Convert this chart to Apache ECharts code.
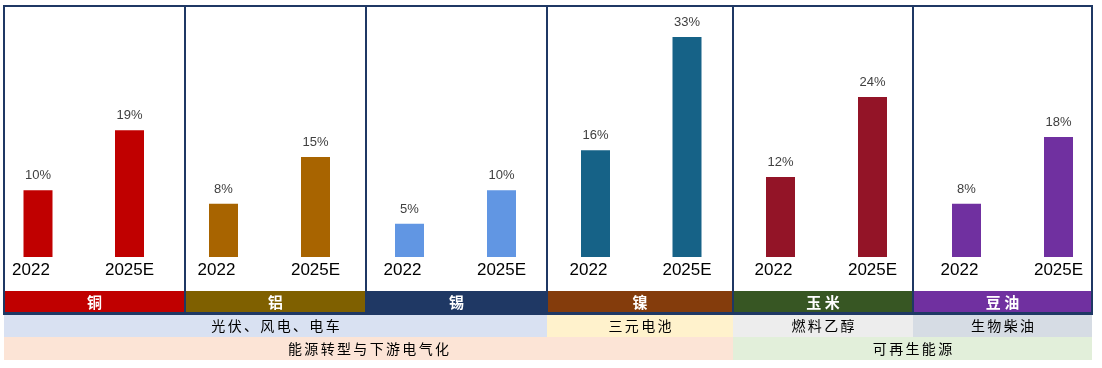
<!DOCTYPE html>
<html>
<head>
<meta charset="utf-8">
<script src="https://cdn.jsdelivr.net/npm/echarts@6/dist/echarts.min.js"></script>
<style>
  html, body { margin: 0; padding: 0; background: #fff; }
  #chart { width: 1102px; height: 368px; }
</style>
</head>
<body>
<div id="chart"></div>
<script>
// ---- Data ----
const commodities = ['铜', '铝', '锡', '镍', '玉米', '豆油'];
const years = ['2022', '2025E'];
const share2022 = [10, 8, 5, 16, 12, 8];
const share2025E = [19, 15, 10, 33, 24, 18];
const useCases = ['光伏、风电、电车', '三元电池', '燃料乙醇', '生物柴油'];
const themes = ['能源转型与下游电气化', '可再生能源'];

// ---- Styling / layout ----
const barColors = ['#C00000', '#A86400', '#6196E3', '#166287', '#931427', '#7030A0'];
const headColors = ['#C00000', '#7F6000', '#1F3864', '#843C0C', '#375623', '#7030A0'];
const panelEdges = [4, 185, 366, 547, 733, 913, 1092];
const gridLefts = [38, 223.5, 409.5, 595.5, 780.5, 966.5];
const gridWidths = [91.5, 92, 92, 91.5, 92, 92];
const baseY = 257;
const topY = 37;
const yMax = 33;
const border = '#1F3864';
const sp = '\u2006';

const labelFont = { color: '#000', fontSize: 17, fontFamily: 'Liberation Sans, Arial' };
const grids = [], xAxes = [], yAxes = [], series = [];
commodities.forEach((c, i) => {
  grids.push({ left: gridLefts[i], width: gridWidths[i], top: topY, height: baseY - topY });
  xAxes.push({
    gridIndex: i, type: 'category', data: years, z: 10, boundaryGap: false,
    axisLine: { show: false }, axisTick: { show: false },
    axisLabel: Object.assign({
      margin: 5, verticalAlign: 'top', interval: 0,
      formatter: (v, idx) => idx === 0 ? '{l|' + v + '}' : '{r|' + v + '}',
      rich: {
        l: Object.assign({ padding: [0, 14, 0, 0] }, labelFont),
        r: Object.assign({ padding: [0, 0, 0, 0] }, labelFont)
      }
    }, labelFont)
  });
  yAxes.push({ gridIndex: i, type: 'value', min: 0, max: yMax, show: false, splitLine: { show: false } });
  series.push({
    type: 'bar', xAxisIndex: i, yAxisIndex: i, barWidth: 29,
    data: [share2022[i], share2025E[i]],
    itemStyle: { color: barColors[i] },
    label: { show: true, position: 'top', distance: 8, formatter: '{c}%', color: '#404040', fontSize: 13, fontFamily: 'Liberation Sans, Arial' }
  });
});

const g = [];
// header bands
commodities.forEach((c, i) => {
  const x0 = panelEdges[i], x1 = panelEdges[i + 1];
  g.push({ type: 'rect', shape: { x: x0, y: 291, width: x1 - x0, height: 22 }, style: { fill: headColors[i] }, z: 1 });
  g.push({ type: 'text', x: (x0 + x1) / 2, y: 302, style: { text: c.split('').join(' '), fill: '#fff', font: 'bold 15px "Noto Sans CJK SC"', align: 'center', verticalAlign: 'middle' }, z: 5 });
});
// use-case row
const row1 = [[4, 547, '#D9E1F2'], [547, 733, '#FFF2CC'], [733, 913, '#EDEDED'], [913, 1092, '#D6DCE4']];
row1.forEach((r, i) => {
  g.push({ type: 'rect', shape: { x: r[0], y: 314, width: r[1] - r[0], height: 23 }, style: { fill: r[2] }, z: 1 });
  g.push({ type: 'text', x: (r[0] + r[1]) / 2, y: 326, style: { text: useCases[i].split('').join(sp), fill: '#000', font: '14px "Noto Sans CJK SC"', align: 'center', verticalAlign: 'middle' }, z: 5 });
});
// theme row
const row2 = [[4, 733, '#FCE4D6'], [733, 1092, '#E2EFDA']];
row2.forEach((r, i) => {
  g.push({ type: 'rect', shape: { x: r[0], y: 337, width: r[1] - r[0], height: 23 }, style: { fill: r[2] }, z: 1 });
  g.push({ type: 'text', x: (r[0] + r[1]) / 2, y: 349, style: { text: themes[i].split('').join(sp), fill: '#000', font: '14px "Noto Sans CJK SC"', align: 'center', verticalAlign: 'middle' }, z: 5 });
});
// frame
g.push({ type: 'rect', shape: { x: 4, y: 6, width: 1088, height: 307 }, style: { fill: 'none', stroke: border, lineWidth: 2 }, z: 20 });
g.push({ type: 'line', shape: { x1: 3, y1: 313.5, x2: 1093, y2: 313.5 }, style: { stroke: border, lineWidth: 3 }, z: 20 });
panelEdges.slice(1, -1).forEach(x => {
  g.push({ type: 'line', shape: { x1: x, y1: 6, x2: x, y2: 313 }, style: { stroke: border, lineWidth: 2 }, z: 20 });
});

const chart = echarts.init(document.getElementById('chart'), null, { renderer: 'canvas' });
chart.setOption({
  animation: false,
  backgroundColor: '#fff',
  grid: grids, xAxis: xAxes, yAxis: yAxes, series: series,
  graphic: { elements: g }
});
</script>
</body>
</html>
